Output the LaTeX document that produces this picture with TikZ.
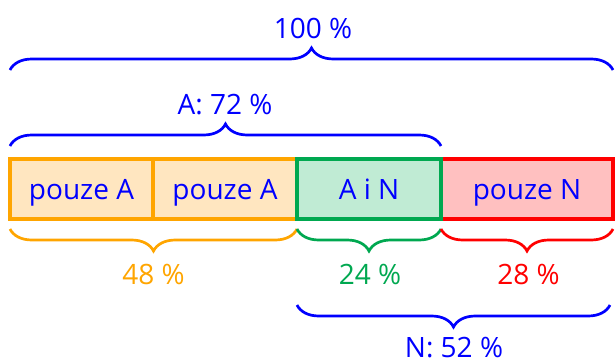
\documentclass[tikz,border=0pt]{standalone}
\usepackage{fontspec}
\setmainfont{Open Sans}
\usetikzlibrary{decorations.pathreplacing,calc}
\definecolor{cblue}{RGB}{0,0,255}
\definecolor{corange}{RGB}{255,165,0}
\definecolor{corangefill}{RGB}{255,230,192}
\definecolor{cgreen}{RGB}{0,168,80}
\definecolor{cgreenfill}{RGB}{192,235,212}
\definecolor{cred}{RGB}{255,0,0}
\definecolor{credfill}{RGB}{255,192,192}
\begin{document}
\begin{tikzpicture}[x=1pt,y=-1pt,
  seg/.style={draw, line width=3.6pt, minimum height=60pt, inner sep=0pt,
    outer sep=0pt, anchor=north west, text=cblue, text height=22pt,
    text depth=0pt, font=\fontsize{28}{30}\selectfont},
  onlyA/.style={seg, fill=corangefill, draw=corange},
  both/.style={seg, fill=cgreenfill, draw=cgreen},
  onlyN/.style={seg, fill=credfill, draw=cred},
  brc/.style={decorate, decoration={brace, amplitude=22pt}, line width=2.7pt},
  lbl/.style={anchor=base, inner sep=0pt, font=\fontsize{28}{30}\selectfont}]
\useasboundingbox (0,0) rectangle (615,361);

% the four segments of the whole
\node[onlyA, minimum width=143pt] (a1) at (10,158.7) {pouze A};
\node[onlyA, minimum width=144pt] (a2) at (153,158.7) {pouze A};
\node[onlyN, minimum width=172pt] (n1) at (441,158.7) {pouze N};
\node[both, minimum width=144pt] (an) at (297,158.7) {A i N};

% braces above
\draw[brc, cblue] ($(a1.north west)+(0,-88.7)$) -- ($(n1.north east)+(0,-88.7)$);
\draw[brc, cblue] ($(a1.north west)+(0,-12.7)$) -- ($(an.north east)+(0,-12.7)$);

% braces below
\draw[brc, corange] ($(a2.south east)+(0,10.3)$) -- ($(a1.south west)+(0,10.3)$);
\draw[brc, cgreen] ($(an.south east)+(0,10.3)$) -- ($(an.south west)+(0,10.3)$);
\draw[brc, cred] ($(n1.south east)+(0,10.3)$) -- ($(n1.south west)+(0,10.3)$);
\draw[brc, cblue] ($(n1.south east)+(-3,86.3)$) -- ($(an.south west)+(0,86.3)$);

% labels
\node[lbl, text=cblue] (ltot) at (313,39) {100 \%};
\node[lbl, text=cblue] (lA) at (225,114) {A: 72 \%};
\node[lbl, text=corange] (lonlyA) at (153.5,284) {48 \%};
\node[lbl, text=cgreen] (lboth) at (370,284.5) {24 \%};
\node[lbl, text=cred] (lonlyN) at (528.5,284.5) {28 \%};
\node[lbl, text=cblue] (lN) at (454,357.5) {N: 52 \%};
\end{tikzpicture}
\end{document}
